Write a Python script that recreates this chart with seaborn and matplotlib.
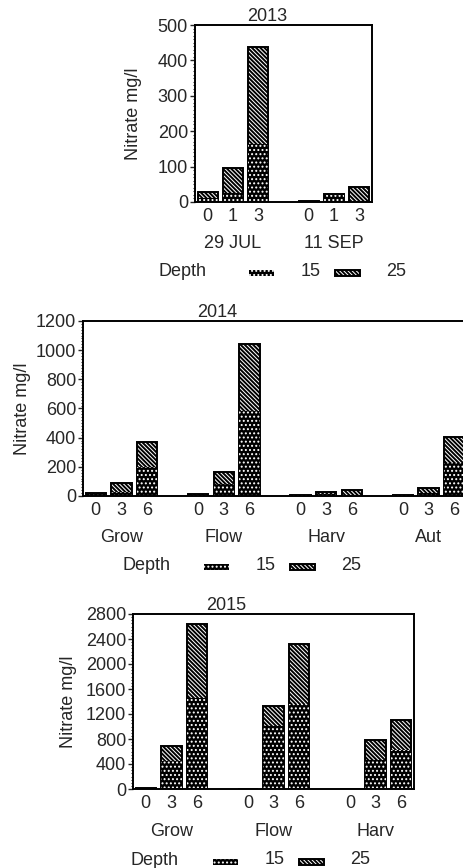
import numpy as np
import pandas as pd
import matplotlib
matplotlib.use('Agg')
import matplotlib.pyplot as plt
from matplotlib.patches import Patch, Rectangle
from matplotlib.legend_handler import HandlerPatch
from matplotlib.ticker import MultipleLocator, AutoMinorLocator
import seaborn as sns

# values (mg/l), total bar height and the depth-15 part
groups_2013 = ['29 JUL', '11 SEP']
days_2013 = ['0', '1', '3']
total_2013 = [28, 95, 438, 3, 24, 43]
d15_2013 = [11, 26, 163, 2, 19, 2]

groups_2014 = ['Grow', 'Flow', 'Harv', 'Aut']
days_2014 = ['0', '3', '6']
total_2014 = [22, 92, 371, 16, 168, 1039, 7, 25, 41, 7, 53, 403]
d15_2014 = [14, 30, 198, 10, 81, 583, 4, 15, 10, 4, 20, 228]

groups_2015 = ['Grow', 'Flow', 'Harv']
days_2015 = ['0', '3', '6']
total_2015 = [10, 693, 2645, 8, 1323, 2325, 8, 779, 1109]
d15_2015 = [8, 453, 1456, 6, 1003, 1360, 6, 469, 629]

legend_labels = ['15', '25']

sns.set_style('ticks')
plt.rcParams['font.family'] = ['Liberation Sans', 'DejaVu Sans']
plt.rcParams['hatch.linewidth'] = 1.4
FS = 13
W, H = 463, 868

DOTS = '.' * 4
LINES = chr(92) * 8   # dense backslash hatch
DOT_LW = 0.9


def thin_dots(p):
    # white dots on black, keep them small so the fill stays dark
    if hasattr(p, 'set_hatch_linewidth'):
        p.set_hatch_linewidth(DOT_LW)


def bottom_rect(legend, orig_handle, xdescent, ydescent, width, height, fontsize):
    return Rectangle((-xdescent, -ydescent), width, 0.33 * fontsize)


def panel(rect, title, title_x, groups, days, total, d15, ymax, ystep, nminor,
          ylab_x, grp_off, legend_x, legend_base, depth_x):
    ax = fig.add_axes(rect)
    n = len(days)
    pos = [g * (n + 1) + d for g in range(len(groups)) for d in range(n)]
    df = pd.DataFrame({'pos': pos, 'total': total, 'd15': d15})

    sns.barplot(data=df, x='pos', y='total', native_scale=True, width=0.8,
                errorbar=None, color='white', edgecolor='black', linewidth=1.4,
                hatch=LINES, ax=ax)
    sns.barplot(data=df, x='pos', y='d15', native_scale=True, width=0.8,
                errorbar=None, color='black', edgecolor='white', linewidth=0,
                hatch=DOTS, ax=ax)
    for bar in ax.containers[1]:
        bar.set_facecolor('black')
        bar.set_edgecolor('white')
        bar.set_linewidth(0)
        thin_dots(bar)

    ax.set_xlim(-0.5, pos[-1] + 0.5)
    ax.set_ylim(0, ymax)
    ax.yaxis.set_major_locator(MultipleLocator(ystep))
    ax.yaxis.set_minor_locator(AutoMinorLocator(nminor))
    ax.set_xticks(pos, days * len(groups))
    ax.tick_params(axis='x', length=0, pad=4, labelsize=FS)
    ax.tick_params(axis='y', which='major', length=3.5, width=1, pad=1.5, labelsize=FS)
    ax.tick_params(axis='y', which='minor', length=1.8, width=0.8)
    for s in ax.spines.values():
        s.set_visible(True)
        s.set_linewidth(1.4)
        s.set_color('black')
    ax.set_xlabel('')
    ax.set_ylabel('Nitrate mg/l', fontsize=FS)
    ax.yaxis.set_label_coords(ylab_x, 0.5)
    ax.set_title(title, x=title_x, pad=2, fontsize=FS)

    for g, name in enumerate(groups):
        c = g * (n + 1) + (n - 1) / 2
        ax.annotate(name, xy=(c, 0), xycoords=('data', 'axes fraction'),
                    xytext=(0, -grp_off * 0.72), textcoords='offset points',
                    ha='center', va='center', fontsize=FS)

    handles = [Patch(facecolor='black', edgecolor='white', linewidth=0, hatch=DOTS),
               Patch(facecolor='white', edgecolor='black', linewidth=1.4, hatch=LINES)]
    leg = fig.legend(handles, legend_labels, ncol=2, loc='lower left',
                     bbox_to_anchor=(legend_x / W, 1 - (legend_base + 3.5) / H),
                     frameon=False, borderpad=0, borderaxespad=0, fontsize=FS,
                     handlelength=1.4, handleheight=0.7, handletextpad=1.45,
                     columnspacing=0.8,
                     handler_map={Patch: HandlerPatch(patch_func=bottom_rect)})
    thin_dots(leg.get_patches()[0])
    fig.text(depth_x / W, 1 - legend_base / H, 'Depth', fontsize=FS,
             ha='left', va='baseline')
    return ax


fig = plt.figure(figsize=(W / 100, H / 100), dpi=100)

panel([195 / W, 1 - 202 / H, 177 / W, 177 / H], '2013', 0.407,
      groups_2013, days_2013, total_2013, d15_2013, 500, 100, 10,
      -0.3, 41, 249, 276, 158)
panel([83 / W, 1 - 496 / H, 384 / W, 175 / H], '2014', 0.349,
      groups_2014, days_2014, total_2014, d15_2014, 1200, 200, 10,
      -0.135, 42, 204, 570, 123)
panel([133 / W, 1 - 789 / H, 281 / W, 175 / H], '2015', 0.331,
      groups_2015, days_2015, total_2015, d15_2015, 2800, 400, 8,
      -0.2, 43, 213, 865, 130)

fig.savefig('out.png', dpi=100)
